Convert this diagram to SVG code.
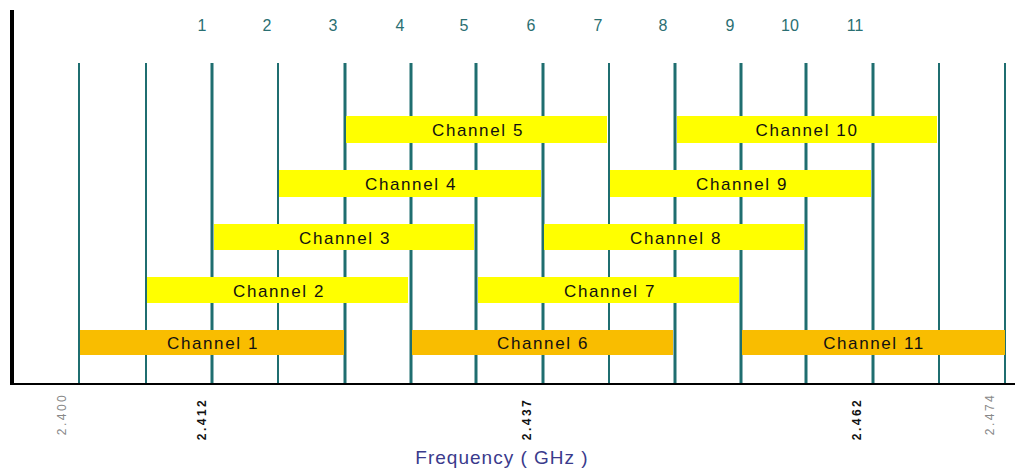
<svg xmlns="http://www.w3.org/2000/svg" width="1015" height="470" viewBox="0 0 1015 470">
<style>
.grid{stroke:#1f6e70;stroke-width:2}
.ctr{stroke:#1f6e70;stroke-width:3}
.num{font-family:"Liberation Sans",Arial,sans-serif;font-size:16px;fill:#2a6f72;text-anchor:middle}
.lbl{font-family:"Liberation Sans",Arial,sans-serif;font-size:17px;fill:#111;text-anchor:middle;letter-spacing:1.6px}
.y{fill:#ffff00}
.o{fill:#f9bd00}
.fq{font-family:"Liberation Sans",Arial,sans-serif;font-size:12px;text-anchor:middle;letter-spacing:2.5px}
.b{font-weight:bold;fill:#111}
.g{fill:#888}
</style>
<rect width="1015" height="470" fill="#fff"/>
<g id="grid">
<line class="grid" x1="79" y1="63" x2="79" y2="384"/>
<line class="grid" x1="146" y1="63" x2="146" y2="384"/>
<line class="ctr" x1="212" y1="63" x2="212" y2="384"/>
<line class="grid" x1="278" y1="63" x2="278" y2="384"/>
<line class="ctr" x1="345" y1="63" x2="345" y2="384"/>
<line class="ctr" x1="411" y1="63" x2="411" y2="384"/>
<line class="ctr" x1="476" y1="63" x2="476" y2="384"/>
<line class="ctr" x1="543" y1="63" x2="543" y2="384"/>
<line class="grid" x1="609" y1="63" x2="609" y2="384"/>
<line class="ctr" x1="675" y1="63" x2="675" y2="384"/>
<line class="ctr" x1="741" y1="63" x2="741" y2="384"/>
<line class="ctr" x1="806" y1="63" x2="806" y2="384"/>
<line class="ctr" x1="873" y1="63" x2="873" y2="384"/>
<line class="grid" x1="939" y1="63" x2="939" y2="384"/>
<line class="grid" x1="1005" y1="63" x2="1005" y2="384"/>
</g>
<g id="axes">
<line x1="12" y1="10" x2="12" y2="385" stroke="#000" stroke-width="4"/>
<line x1="10" y1="384" x2="1015" y2="384" stroke="#000" stroke-width="2"/>
</g>
<g id="numbers">
<text class="num" x="202" y="31">1</text>
<text class="num" x="267" y="31">2</text>
<text class="num" x="333" y="31">3</text>
<text class="num" x="400" y="31">4</text>
<text class="num" x="464" y="31">5</text>
<text class="num" x="531" y="31">6</text>
<text class="num" x="598" y="31">7</text>
<text class="num" x="663" y="31">8</text>
<text class="num" x="730" y="31">9</text>
<text class="num" x="790" y="31">10</text>
<text class="num" x="855" y="31">11</text>
</g>
<g id="ch1"><rect class="o" x="80" y="330" width="264" height="25"/><text class="lbl" x="213" y="349">Channel 1</text></g>
<g id="ch6"><rect class="o" x="412" y="330" width="261" height="25"/><text class="lbl" x="543" y="349">Channel 6</text></g>
<g id="ch11"><rect class="o" x="742" y="330" width="263" height="25"/><text class="lbl" x="874" y="349">Channel 11</text></g>
<g id="ch2"><rect class="y" x="147" y="277" width="261" height="26"/><text class="lbl" x="279" y="297">Channel 2</text></g>
<g id="ch7"><rect class="y" x="478" y="277" width="261" height="26"/><text class="lbl" x="610" y="297">Channel 7</text></g>
<g id="ch3"><rect class="y" x="214" y="224" width="260" height="26"/><text class="lbl" x="345" y="244">Channel 3</text></g>
<g id="ch8"><rect class="y" x="544" y="224" width="260" height="26"/><text class="lbl" x="676" y="244">Channel 8</text></g>
<g id="ch4"><rect class="y" x="279" y="170" width="262" height="27"/><text class="lbl" x="411" y="190">Channel 4</text></g>
<g id="ch9"><rect class="y" x="610" y="170" width="261" height="27"/><text class="lbl" x="742" y="190">Channel 9</text></g>
<g id="ch5"><rect class="y" x="346" y="116" width="261" height="27"/><text class="lbl" x="478" y="136">Channel 5</text></g>
<g id="ch10"><rect class="y" x="677" y="116" width="260" height="27"/><text class="lbl" x="807" y="136">Channel 10</text></g>
<g id="freqs">
<text class="fq g" transform="translate(66,414) rotate(-90)">2.400</text>
<text class="fq b" transform="translate(206,419) rotate(-90)">2.412</text>
<text class="fq b" transform="translate(531,419) rotate(-90)">2.437</text>
<text class="fq b" transform="translate(861,419) rotate(-90)">2.462</text>
<text class="fq g" transform="translate(994,414) rotate(-90)">2.474</text>
</g>
<text x="502" y="464" font-family="'Liberation Sans',Arial,sans-serif" font-size="19" letter-spacing="1" fill="#3a3a8c" text-anchor="middle">Frequency ( GHz )</text>
</svg>
